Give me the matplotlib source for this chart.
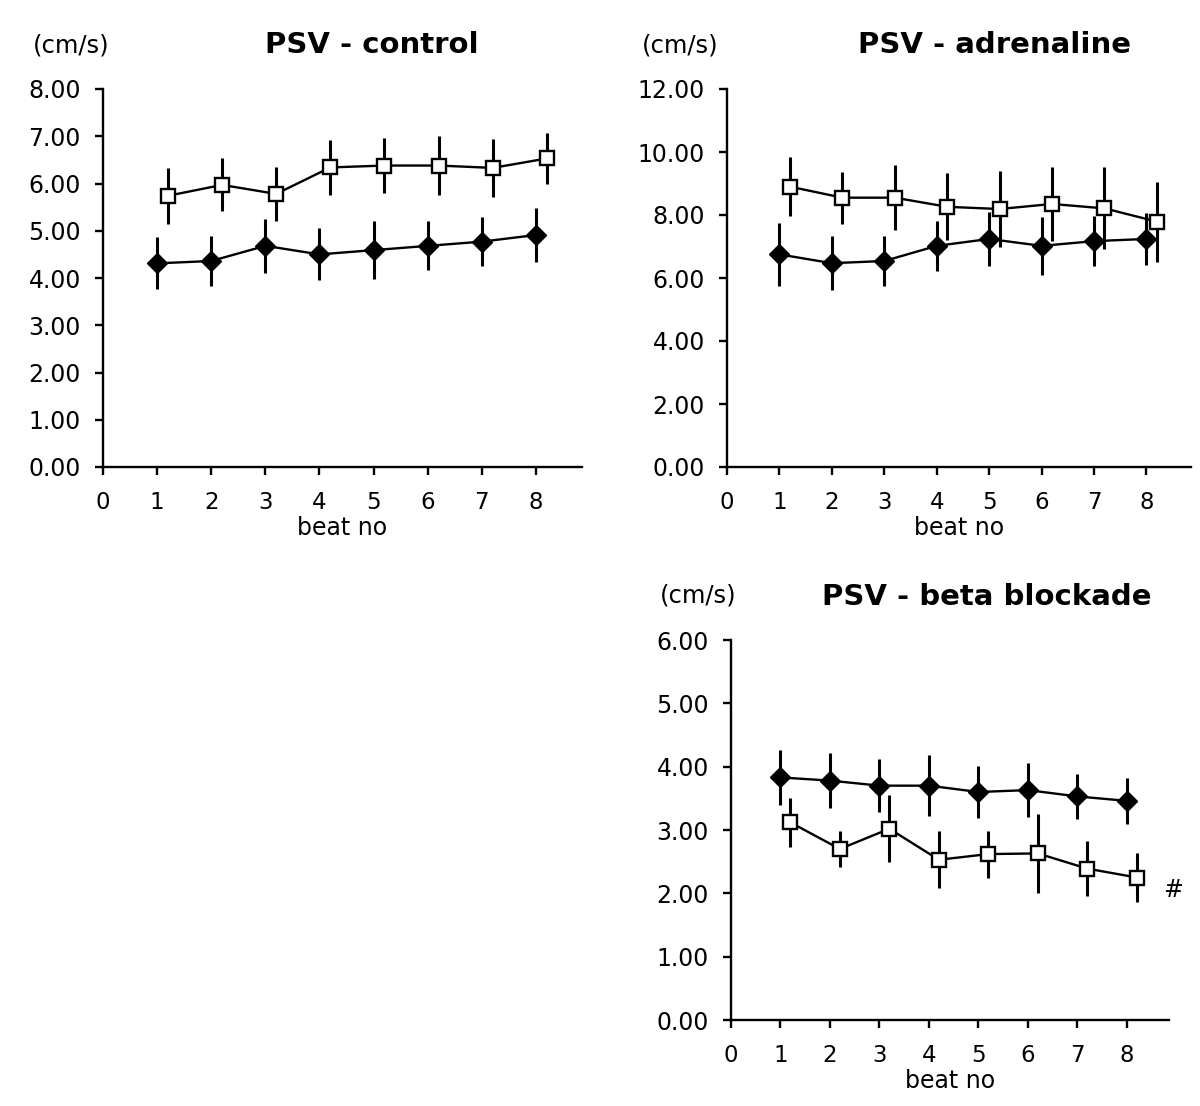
import matplotlib
matplotlib.use("Agg")
import matplotlib.pyplot as plt
import numpy as np

plt.rcParams['font.family'] = ['DejaVu Sans']

beats = [1, 2, 3, 4, 5, 6, 7, 8]
xticks = [0, 1, 2, 3, 4, 5, 6, 7, 8]

# PSV - control
ctrl_dia = [4.31, 4.36, 4.68, 4.50, 4.59, 4.68, 4.77, 4.91]
ctrl_dia_err = [0.55, 0.52, 0.57, 0.55, 0.61, 0.52, 0.52, 0.57]
ctrl_sq = [5.74, 5.97, 5.78, 6.34, 6.38, 6.38, 6.33, 6.53]
ctrl_sq_err = [0.59, 0.56, 0.57, 0.59, 0.59, 0.63, 0.61, 0.54]

# PSV - adrenaline
adr_dia = [6.75, 6.47, 6.54, 7.02, 7.24, 7.02, 7.17, 7.24]
adr_dia_err = [1.00, 0.86, 0.79, 0.79, 0.85, 0.92, 0.79, 0.83]
adr_sq = [8.90, 8.55, 8.55, 8.26, 8.19, 8.35, 8.21, 7.79]
adr_sq_err = [0.93, 0.83, 1.04, 1.06, 1.20, 1.17, 1.30, 1.27]

# PSV - beta blockade
bb_dia = [3.83, 3.78, 3.70, 3.70, 3.60, 3.63, 3.53, 3.46]
bb_dia_err = [0.44, 0.44, 0.42, 0.48, 0.41, 0.43, 0.36, 0.36]
bb_sq = [3.12, 2.70, 3.02, 2.53, 2.62, 2.63, 2.39, 2.25]
bb_sq_err = [0.39, 0.29, 0.53, 0.45, 0.37, 0.63, 0.43, 0.38]

SQ_OFFSET = 0.2

W, H = 1200, 1106
fig = plt.figure(figsize=(W / 100, H / 100), dpi=100)


def px_axes(l, r, t, b):
    return fig.add_axes([l / W, 1 - b / H, (r - l) / W, (b - t) / H])


def draw(ax, dia, dia_err, sq, sq_err, ymax, ystep, title, title_xy, unit_xy):
    x = np.array(beats, dtype=float)
    xs = x + SQ_OFFSET
    ax.errorbar(x, dia, yerr=dia_err, fmt='none', ecolor='black', elinewidth=2.2, capsize=0, zorder=2)
    ax.errorbar(xs, sq, yerr=sq_err, fmt='none', ecolor='black', elinewidth=2.2, capsize=0, zorder=2)
    ax.plot(x, dia, color='black', lw=1.7, marker='D', ms=10.5, mfc='black', mec='black', zorder=3)
    ax.plot(xs, sq, color='black', lw=1.7, marker='s', ms=10.5, mfc='white', mec='black', mew=1.7, zorder=4)
    ax.set_xlim(0, 8.85)
    ax.set_ylim(0, ymax)
    ax.set_xticks(xticks)
    ax.set_xticklabels([str(v) for v in xticks])
    yt = np.arange(0, ymax + 0.001, ystep)
    ax.set_yticks(yt)
    ax.set_yticklabels([f"{v:.2f}" for v in yt])
    for s in ['top', 'right']:
        ax.spines[s].set_visible(False)
    for s in ['left', 'bottom']:
        ax.spines[s].set_linewidth(1.7)
    ax.tick_params(axis='both', direction='out', length=6, width=1.7, color='black')
    ax.tick_params(axis='y', labelsize=17, pad=10)
    ax.tick_params(axis='x', labelsize=16.5, pad=11)
    ax.set_xlabel('beat no', fontsize=17, labelpad=1.5)
    fig.text(title_xy[0] / W, 1 - title_xy[1] / H, title, fontsize=21, fontweight='bold',
             ha='center', va='center')
    fig.text(unit_xy[0] / W, 1 - unit_xy[1] / H, '(cm/s)', fontsize=17.5,
             ha='center', va='center')


ax1 = px_axes(103, 582, 89, 467)
draw(ax1, ctrl_dia, ctrl_dia_err, ctrl_sq, ctrl_sq_err, 8, 1, 'PSV - control', (372, 45), (71, 45))

ax2 = px_axes(727, 1191, 89, 467)
draw(ax2, adr_dia, adr_dia_err, adr_sq, adr_sq_err, 12, 2, 'PSV - adrenaline', (994, 45), (680, 45))

ax3 = px_axes(731, 1169, 640, 1020)
draw(ax3, bb_dia, bb_dia_err, bb_sq, bb_sq_err, 6, 1, 'PSV - beta blockade', (987, 597), (698, 596))
ax3.text(8.93, 2.05, '#', fontsize=17, ha='center', va='center', clip_on=False)

fig.savefig('out.png', dpi=100, facecolor='white')
